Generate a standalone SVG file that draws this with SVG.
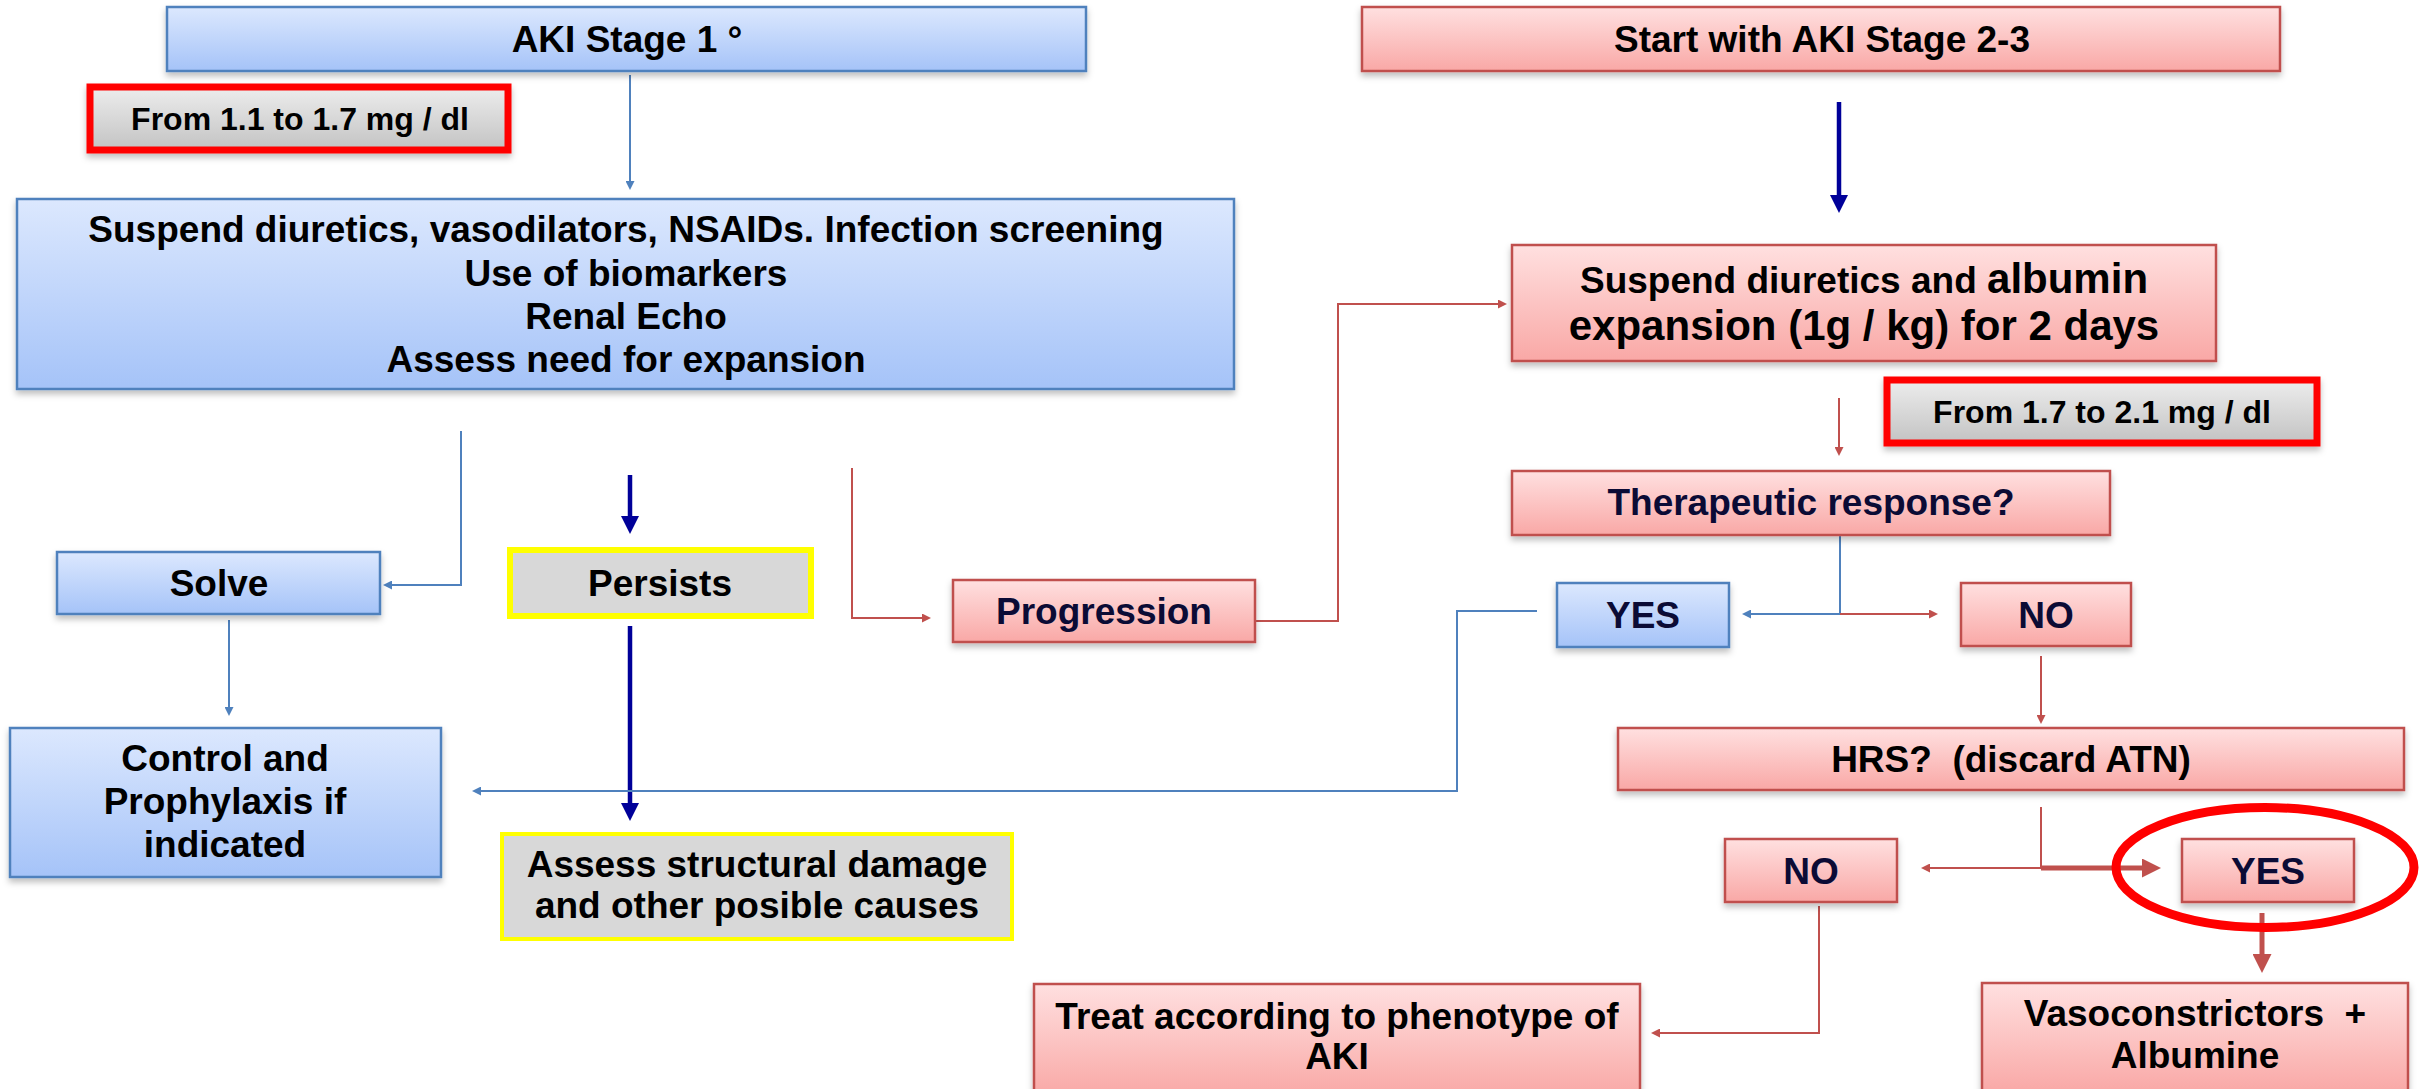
<svg xmlns="http://www.w3.org/2000/svg" width="2436" height="1089" viewBox="0 0 2436 1089">
<style>
text{font-family:"Liberation Sans",Arial,sans-serif;font-weight:bold;fill:#000;text-anchor:middle}
.t37{font-size:37px}
.t32{font-size:32px}
.nv{fill:#0b0b35}
.blue{fill:url(#gb);stroke:#4f81bd;stroke-width:2.5;filter:url(#sh)}
.red{fill:url(#gr);stroke:#c0504d;stroke-width:2.5;filter:url(#sh)}
.grayr{fill:url(#gg);stroke:#ff0000;stroke-width:7;filter:url(#sh)}
.grayy{fill:#d8d8d8;stroke:#ffff00}
.cb{fill:none;stroke:#4f81bd;stroke-width:2}
.cr{fill:none;stroke:#c0504d;stroke-width:2}
.cn{fill:none;stroke:#000099;stroke-width:4.5}
.ct{fill:none;stroke:#c0504d;stroke-width:5}
</style>
<defs>
<linearGradient id="gb" x1="0" y1="0" x2="0" y2="1"><stop offset="0" stop-color="#dce8fe"/><stop offset="1" stop-color="#a5c3f8"/></linearGradient>
<linearGradient id="gr" x1="0" y1="0" x2="0" y2="1"><stop offset="0" stop-color="#ffe0e0"/><stop offset="1" stop-color="#f9a8a6"/></linearGradient>
<linearGradient id="gg" x1="0" y1="0" x2="0" y2="1"><stop offset="0" stop-color="#ededed"/><stop offset="1" stop-color="#c3c3c3"/></linearGradient>
<filter id="sh" x="-5%" y="-10%" width="110%" height="135%"><feDropShadow dx="0" dy="4" stdDeviation="3" flood-color="#000" flood-opacity="0.25"/></filter>
<marker id="ab" markerUnits="userSpaceOnUse" markerWidth="9" markerHeight="9" viewBox="0 0 9 9" refX="7" refY="4.5" orient="auto"><path d="M0,0 L9,4.5 L0,9 z" fill="#4f81bd"/></marker>
<marker id="ar" markerUnits="userSpaceOnUse" markerWidth="9" markerHeight="9" viewBox="0 0 9 9" refX="7" refY="4.5" orient="auto"><path d="M0,0 L9,4.5 L0,9 z" fill="#c0504d"/></marker>
<marker id="an" markerUnits="userSpaceOnUse" markerWidth="18" markerHeight="18" viewBox="0 0 18 18" refX="12" refY="9" orient="auto"><path d="M0,0 L18,9 L0,18 z" fill="#000099"/></marker>
<marker id="at" markerUnits="userSpaceOnUse" markerWidth="19" markerHeight="19" viewBox="0 0 19 19" refX="13" refY="9.5" orient="auto"><path d="M0,0 L19,9.5 L0,19 z" fill="#c0504d"/></marker>
</defs>
<rect width="2436" height="1089" fill="#fff"/>

<g id="connectors">
<path class="cb" d="M630,75 V188" marker-end="url(#ab)"/>
<path class="cb" d="M461,431 V585 H385" marker-end="url(#ab)"/>
<path class="cb" d="M229,620 V714" marker-end="url(#ab)"/>
<path class="cn" d="M630,475 V528" marker-end="url(#an)"/>
<path class="cn" d="M630,626 V815" marker-end="url(#an)"/>
<path class="cb" d="M1537,611 H1457 V791 H474" marker-end="url(#ab)"/>
<path class="cr" d="M852,468 V618 H929" marker-end="url(#ar)"/>
<path class="cr" d="M1255,621 H1338 V304 H1505" marker-end="url(#ar)"/>
<path class="cn" d="M1839,102 V207" marker-end="url(#an)"/>
<path class="cr" d="M1839,398 V454" marker-end="url(#ar)"/>
<path class="cb" d="M1840,536 V614 H1744" marker-end="url(#ab)"/>
<path class="cr" d="M1840,614 H1936" marker-end="url(#ar)"/>
<path class="cr" d="M2041,656 V722" marker-end="url(#ar)"/>
<path class="cr" d="M2041,807 V868 H1923" marker-end="url(#ar)"/>
<path class="ct" d="M2041,868 H2155" marker-end="url(#at)"/>
<path class="ct" d="M2262,913 V967" marker-end="url(#at)"/>
<path class="cr" d="M1819,906 V1033 H1653" marker-end="url(#ar)"/>
</g>

<g id="aki1">
<rect class="blue" x="167" y="7" width="919" height="64"/>
<text class="t37" x="627" y="52">AKI Stage 1 °</text>
</g>
<g id="range1">
<rect class="grayr" x="90" y="87" width="418" height="63"/>
<text class="t32" x="300" y="130">From 1.1 to 1.7 mg / dl</text>
</g>
<g id="measures1">
<rect class="blue" x="17" y="199" width="1217" height="190"/>
<text class="t37" x="626" y="242">Suspend diuretics, vasodilators, NSAIDs. Infection screening</text>
<text class="t37" x="626" y="286">Use of biomarkers</text>
<text class="t37" x="626" y="329">Renal Echo</text>
<text class="t37" x="626" y="372">Assess need for expansion</text>
</g>
<g id="solve">
<rect class="blue" x="57" y="552" width="323" height="62"/>
<text class="t37" x="219" y="596">Solve</text>
</g>
<g id="persists">
<rect class="grayy" x="510" y="550" width="301" height="66" stroke-width="6"/>
<text class="t37" x="660" y="596">Persists</text>
</g>
<g id="progression">
<rect class="red" x="953" y="580" width="302" height="62"/>
<text class="t37 nv" x="1104" y="624">Progression</text>
</g>
<g id="control">
<rect class="blue" x="10" y="728" width="431" height="149"/>
<text class="t37" x="225" y="771">Control and</text>
<text class="t37" x="225" y="814">Prophylaxis if</text>
<text class="t37" x="225" y="857">indicated</text>
</g>
<g id="assess">
<rect class="grayy" x="502" y="834" width="510" height="105" stroke-width="4"/>
<text class="t37" x="757" y="877">Assess structural damage</text>
<text class="t37" x="757" y="918">and other posible causes</text>
</g>

<g id="aki23">
<rect class="red" x="1362" y="7" width="918" height="64"/>
<text class="t37" x="1822" y="52">Start with AKI Stage 2-3</text>
</g>
<g id="suspend2">
<rect class="red" x="1512" y="245" width="704" height="116"/>
<text x="1864" y="293"><tspan font-size="37">Suspend diuretics and </tspan><tspan font-size="42">albumin</tspan></text>
<text x="1864" y="340" font-size="42">expansion (1g / kg) for 2 days</text>
</g>
<g id="range2">
<rect class="grayr" x="1887" y="380" width="430" height="63"/>
<text class="t32" x="2102" y="423">From 1.7 to 2.1 mg / dl</text>
</g>
<g id="therapeutic">
<rect class="red" x="1512" y="471" width="598" height="64"/>
<text class="t37 nv" x="1811" y="515">Therapeutic response?</text>
</g>
<g id="yes1">
<rect class="blue" x="1557" y="583" width="172" height="64"/>
<text class="t37 nv" x="1643" y="628">YES</text>
</g>
<g id="no1">
<rect class="red" x="1961" y="583" width="170" height="63"/>
<text class="t37 nv" x="2046" y="628">NO</text>
</g>
<g id="hrs">
<rect class="red" x="1618" y="728" width="786" height="62"/>
<text class="t37" x="2011" y="772" xml:space="preserve">HRS?  (discard ATN)</text>
</g>
<g id="no2">
<rect class="red" x="1725" y="839" width="172" height="63"/>
<text class="t37 nv" x="1811" y="884">NO</text>
</g>
<g id="yes2">
<rect class="red" x="2182" y="839" width="172" height="63"/>
<text class="t37 nv" x="2268" y="884">YES</text>
<ellipse cx="2265" cy="867.5" rx="149" ry="60" fill="none" stroke="#ff0000" stroke-width="9"/>
</g>
<g id="treat">
<rect class="red" x="1034" y="984" width="606" height="112"/>
<text class="t37" x="1337" y="1029">Treat according to phenotype of</text>
<text class="t37" x="1337" y="1069">AKI</text>
</g>
<g id="vaso">
<rect class="red" x="1982" y="983" width="426" height="110"/>
<text class="t37" x="2195" y="1026" xml:space="preserve">Vasoconstrictors  +</text>
<text class="t37" x="2195" y="1068">Albumine</text>
</g>
</svg>
